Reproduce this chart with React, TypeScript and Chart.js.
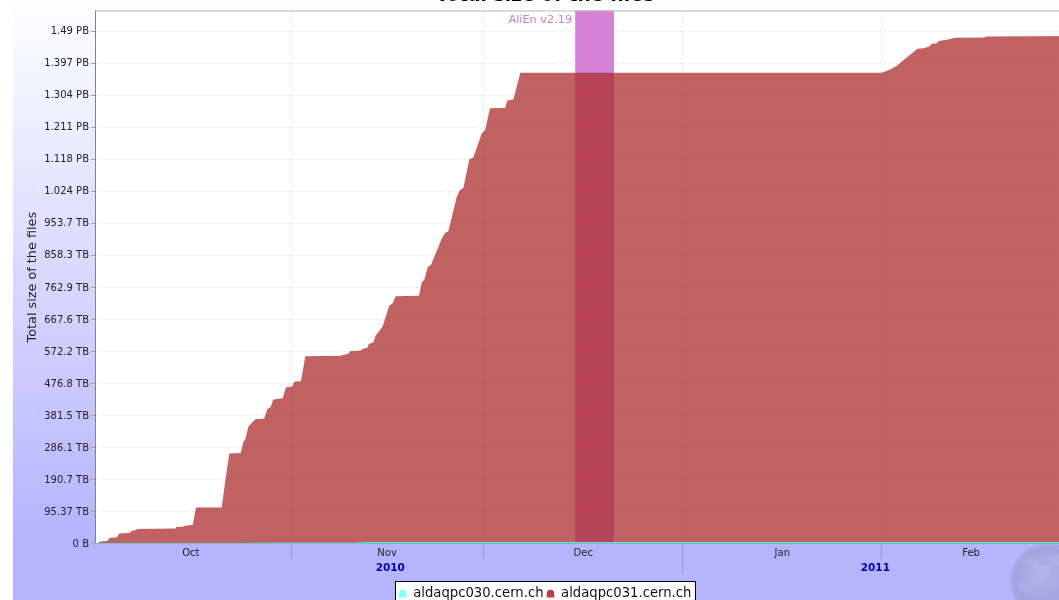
import React, { useEffect, useRef } from "react";
import { Chart, registerables } from "chart.js";

Chart.register(...registerables);

const FONT = "'DejaVu Sans', sans-serif";

const seriesNames = ["aldaqpc030.cern.ch", "aldaqpc031.cern.ch"];

// x = days after 1 Oct 2010, y = TB
const days031 = [0.47, 0.73, 1.25, 2.34, 2.8, 3.85, 4.25, 5.92, 6.18, 6.85, 7.06, 12.93, 13.08, 14.17, 14.49, 15.69, 16.2, 20.2, 20.87, 21.39, 23.16, 23.57, 23.94, 24.35, 25.08, 25.55, 26.82, 27.31, 27.8, 28.24, 29.7, 30.22, 31.2, 31.51, 32.55, 33.22, 38.63, 39.92, 40.19, 41.85, 42.17, 42.88, 43.15, 43.82, 44.19, 45.28, 46.31, 46.78, 47.31, 50.93, 51.36, 51.76, 52.29, 52.8, 54.47, 54.98, 55.5, 56.81, 57.32, 57.84, 58.77, 59.39, 60.7, 61.21, 61.99, 64.33, 64.69, 65.62, 66.71, 123, 124.3, 125.34, 126.37, 128.55, 129.49, 130.42, 130.79, 131.46, 131.93, 133.13, 134.42, 138.83, 139.36, 153.5];
const values031 = [0, 0, 6.9, 8, 17.9, 18.8, 30.7, 32.8, 38.7, 40.8, 43.8, 45.6, 49.8, 50.7, 53.6, 55.7, 108.2, 108.2, 202.6, 269.1, 270.3, 301.9, 315, 348.7, 363.6, 371.6, 372.5, 400.8, 406.2, 429.1, 433, 465.8, 467.9, 482.8, 483.7, 558.2, 559.3, 565.3, 573, 575.1, 580.2, 583.2, 595.1, 599, 619.8, 647.6, 709.2, 714.3, 736.9, 738.2, 778.7, 785.8, 823.4, 830.5, 908, 924.7, 929.8, 1032, 1054, 1058.8, 1144.3, 1149.4, 1220.9, 1230.7, 1296.3, 1297.2, 1319.2, 1322.2, 1401.5, 1402, 1411.6, 1422.4, 1439.3, 1473, 1475.1, 1480.2, 1487.9, 1489.1, 1496, 1499.8, 1505.8, 1507, 1510, 1511];

const days030 = [0.47, 23.5, 26.8, 41.5, 43, 153.5];
const values030 = [0, 0, 1.2, 1.5, 3, 3];

const yTickValues = [0, 95.37, 190.7, 286.1, 381.5, 476.8, 572.2, 667.6, 762.9, 858.3, 953.7, 1049, 1144.4, 1239.8, 1335.2, 1430.5, 1526];
const yTickLabels = ["0 B", "95.37 TB", "190.7 TB", "286.1 TB", "381.5 TB", "476.8 TB", "572.2 TB", "667.6 TB", "762.9 TB", "858.3 TB", "953.7 TB", "1.024 PB", "1.118 PB", "1.211 PB", "1.304 PB", "1.397 PB", "1.49 PB"];

const monthBoundaries = [31, 61, 92, 123];
const monthCentres = [15.4, 45.95, 76.5, 107.5, 136.9];
const monthLabels = ["Oct", "Nov", "Dec", "Jan", "Feb"];

const yearCentres = [46.45, 122];
const yearLabels = ["2010", "2011"];
const yearBoundary = 92;

const xMin = 0.47;
const xMax = 153.4;
const yMax = 1587;

const releaseLabel = "AliEn v2.19";
const releaseStart = 75.25;
const releaseEnd = 81.3;

function makeMarker(color: string) {
  const c = document.createElement("canvas");
  c.width = 9;
  c.height = 9;
  const g = c.getContext("2d")!;
  g.fillStyle = color;
  g.beginPath();
  g.arc(4.5, 4.5, 3.7, Math.PI, 0);
  g.lineTo(8.5, 8.5);
  g.lineTo(0.5, 8.5);
  g.closePath();
  g.fill();
  return c;
}

const backdrop = {
  id: "backdrop",
  beforeDraw(chart: any) {
    const { ctx, width, height, chartArea } = chart;
    ctx.save();
    const grad = ctx.createLinearGradient(0, 25, 0, 570);
    grad.addColorStop(0, "#FFFFFF");
    grad.addColorStop(1, "#B4B4FF");
    ctx.fillStyle = grad;
    ctx.fillRect(0, 0, width, height);

    // globe watermark, bottom right
    const gx = 1035, gy = 611, gr = 38;
    const rg = ctx.createRadialGradient(gx - 8, gy - 8, 4, gx, gy, gr);
    rg.addColorStop(0, "#ADB4E8");
    rg.addColorStop(0.8, "#A2A4E0");
    rg.addColorStop(1, "#ACACEA");
    ctx.fillStyle = rg;
    ctx.beginPath();
    ctx.arc(gx, gy, gr, 0, Math.PI * 2);
    ctx.fill();
    ctx.fillStyle = "rgba(185,190,238,0.3)";
    for (const [bx, by, brx, bry] of [[1018, 592, 9, 5], [1030, 604, 7, 9], [1044, 590, 8, 6], [1012, 618, 8, 5]]) {
      ctx.beginPath();
      ctx.ellipse(bx, by, brx, bry, 0.4, 0, Math.PI * 2);
      ctx.fill();
    }

    ctx.fillStyle = "#FFFFFF";
    ctx.fillRect(chartArea.left, chartArea.top, chartArea.right - chartArea.left, chartArea.bottom - chartArea.top);

    // legend frame
    const boxes = chart.legend.legendHitBoxes;
    if (boxes && boxes.length) {
      const left = boxes[0].left - 4;
      const last = boxes[boxes.length - 1];
      const right = last.left + last.width + 3;
      ctx.fillStyle = "#FFFFFF";
      ctx.strokeStyle = "#000000";
      ctx.lineWidth = 1;
      ctx.fillRect(Math.round(left) + 0.5, 611.5, Math.round(right - left), 40);
      ctx.strokeRect(Math.round(left) + 0.5, 611.5, Math.round(right - left), 40);
    }
    ctx.restore();
  },
};

const releaseBand = {
  id: "releaseBand",
  beforeDatasetsDraw(chart: any) {
    const { ctx, chartArea, scales } = chart;
    const a = scales.x.getPixelForValue(releaseStart);
    const b = scales.x.getPixelForValue(releaseEnd);
    ctx.save();
    ctx.fillStyle = "rgba(204,102,204,0.82)";
    ctx.fillRect(a, chartArea.top, b - a, chartArea.bottom - chartArea.top);
    ctx.fillStyle = "#C97FBF";
    ctx.font = "11.3px " + FONT;
    ctx.textAlign = "right";
    ctx.textBaseline = "middle";
    ctx.fillText(releaseLabel, a - 3, chartArea.top + 10);
    ctx.strokeStyle = "#B8B8B8";
    ctx.lineWidth = 1;
    ctx.beginPath();
    ctx.moveTo(chartArea.left, chartArea.top + 0.5);
    ctx.lineTo(chartArea.right, chartArea.top + 0.5);
    ctx.stroke();
    ctx.restore();
  },
};

export default function App() {
  const ref = useRef<HTMLCanvasElement>(null);

  useEffect(() => {
    const isBoundary = (v: number) => monthBoundaries.includes(v);
    const chart = new Chart(ref.current!, {
      type: "line",
      data: {
        datasets: [
          {
            label: seriesNames[0],
            data: days030.map((x, i) => ({ x, y: values030[i] })),
            borderColor: "#5FE8E8",
            backgroundColor: "rgba(110,235,235,0.85)",
            borderWidth: 1.4,
            fill: "origin",
            pointRadius: 0,
            pointStyle: makeMarker("#80FFFF") as any,
            tension: 0,
          },
          {
            label: seriesNames[1],
            data: days031.map((x, i) => ({ x, y: values031[i] })),
            borderColor: "rgba(172,46,46,0.1)",
            backgroundColor: "rgba(172,46,46,0.75)",
            borderWidth: 0,
            fill: "origin",
            pointRadius: 0,
            pointStyle: makeMarker("#B84040") as any,
            tension: 0,
          },
        ],
      },
      options: {
        animation: false,
        responsive: false,
        parsing: false as any,
        layout: { padding: 0 },
        scales: {
          x: {
            type: "linear",
            position: "bottom",
            weight: 1,
            min: xMin,
            max: xMax,
            afterBuildTicks(s: any) {
              s.ticks = [...monthCentres, ...monthBoundaries].sort((a, b) => a - b).map((value) => ({ value }));
            },
            afterFit(s: any) {
              s.height = 15;
            },
            ticks: {
              autoSkip: false,
              maxRotation: 0,
              padding: -11,
              color: "#222222",
              font: { family: FONT, size: 10 },
              callback: (v: any) => {
                const i = monthCentres.indexOf(Number(v));
                return i >= 0 ? monthLabels[i] : "";
              },
            },
            grid: {
              tickLength: 15,
              color: (c: any) => (c.tick && isBoundary(c.tick.value) ? "#E4E4E4" : "transparent"),
              tickColor: (c: any) => (c.tick && isBoundary(c.tick.value) ? "#9A9AB0" : "transparent"),
            },
            border: { color: "#808090", dash: [2, 2] },
          },
          x2: {
            type: "linear",
            position: "bottom",
            weight: 2,
            min: xMin,
            max: xMax,
            afterBuildTicks(s: any) {
              s.ticks = [yearCentres[0], yearBoundary, yearCentres[1]].map((value) => ({ value }));
            },
            afterFit(s: any) {
              s.height = 25;
            },
            ticks: {
              autoSkip: false,
              maxRotation: 0,
              padding: -12,
              color: "#0000B0",
              font: { family: FONT, size: 10.5, weight: "bold" },
              callback: (v: any) => {
                const i = yearCentres.indexOf(Number(v));
                return i >= 0 ? yearLabels[i] : "";
              },
            },
            grid: {
              drawOnChartArea: false,
              tickLength: 15,
              tickColor: (c: any) => (c.tick && c.tick.value === yearBoundary ? "#9A9AB0" : "transparent"),
            },
            border: { display: false },
          },
          y: {
            type: "linear",
            position: "left",
            min: 0,
            max: yMax,
            afterBuildTicks(s: any) {
              s.ticks = yTickValues.map((value) => ({ value }));
            },
            afterFit(s: any) {
              s.width = 82;
            },
            title: {
              display: true,
              text: "Total size of the files",
              color: "#222222",
              font: { family: FONT, size: 12.8 },
              padding: { top: 11.5, bottom: 0 },
            },
            ticks: {
              autoSkip: false,
              padding: 2,
              labelOffset: 0.5,
              color: "#222222",
              font: { family: FONT, size: 10 },
              callback: (v: any) => {
                const i = yTickValues.indexOf(Number(v));
                return i >= 0 ? yTickLabels[i] : "";
              },
            },
            grid: { tickLength: 4, color: "#E8E8E8", tickColor: "#9A9AB0" },
            border: { color: "#808090", dash: [2, 2] },
          },
        },
        plugins: {
          title: {
            display: true,
            text: "Total size of the files",
            color: "#000000",
            font: { family: FONT, size: 18.7, weight: "bold" },
            padding: { top: 14.8, bottom: 3.3 },
          },
          legend: {
            display: true,
            position: "bottom",
            padding: 0,
            labels: {
              usePointStyle: true,
              boxWidth: 8,
              padding: 3,
              color: "#111111",
              font: { family: FONT, size: 13.2 },
            },
          } as any,
          tooltip: { enabled: false },
        },
      } as any,
      plugins: [backdrop, releaseBand],
    });
    return () => chart.destroy();
  }, []);

  return (
    <div style={{ position: "fixed", left: 0, top: 0, width: 1059, height: 600, overflow: "hidden", background: "#FFFFFF" }}>
      <canvas ref={ref} width={1064} height={640} style={{ position: "absolute", left: 13, top: -30, width: 1064, height: 640 }} />
    </div>
  );
}
